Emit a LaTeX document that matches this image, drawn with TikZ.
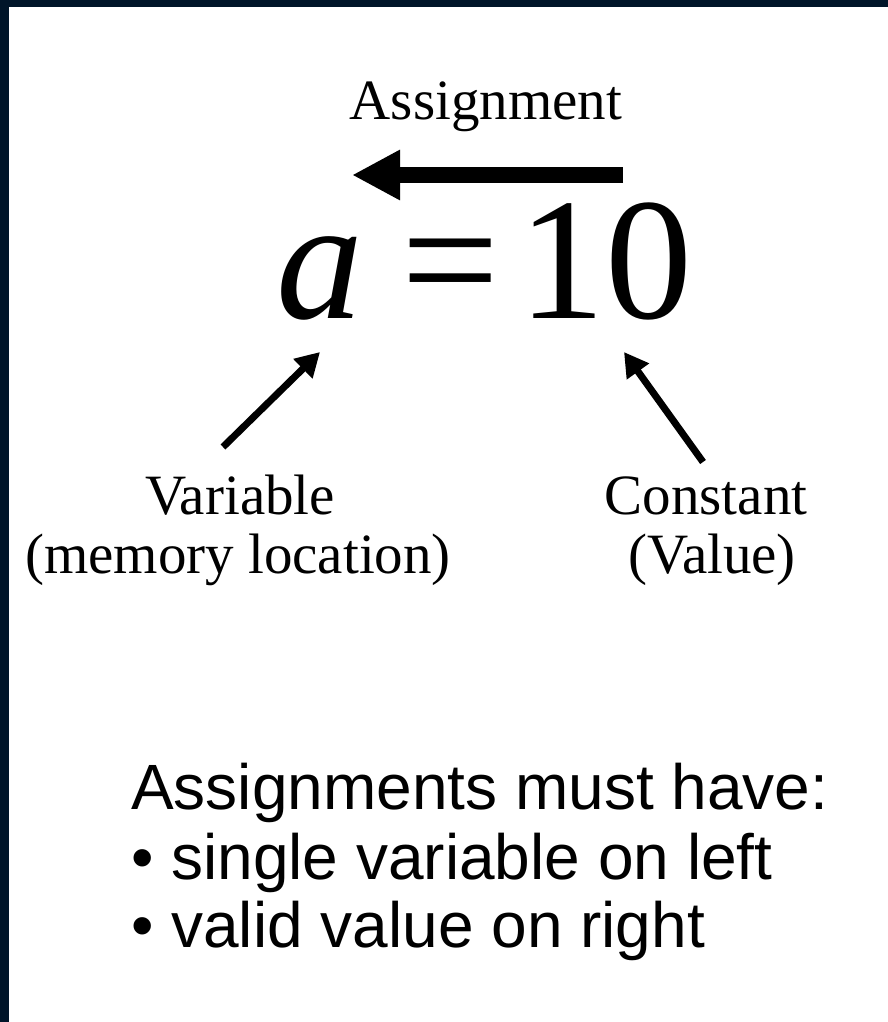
\documentclass[tikz,border=0pt]{standalone}
\usepackage{fontspec}
\setmainfont{Liberation Serif}
\setsansfont{Liberation Sans}
\usetikzlibrary{arrows.meta}
\definecolor{slideedge}{RGB}{0,21,41}

\begin{document}
\begin{tikzpicture}[x=1pt,y=-1pt,
  caption/.style={font=\fontsize{57}{62}\selectfont,anchor=base,inner sep=0pt},
  big/.style={font=\fontsize{174}{180}\selectfont,anchor=base,inner sep=0pt},
  rule/.style={font=\sffamily\fontsize{64}{68}\selectfont,anchor=base west,inner sep=0pt},
  pointer/.style={line width=7pt,-{Triangle[length=24pt,width=26pt]}}]
  % Frame
  \useasboundingbox (0,0) rectangle (888,1022);
  \fill[white] (0,0) rectangle (888,1022);
  \fill[slideedge] (0,0) rectangle (888,7);
  \fill[slideedge] (0,0) rectangle (9,1022);

  % Equation
  \node[big] (lhs) at (320,318) {\itshape a};
  \node[big] (eq) at (451,318) {=};
  \node[big] (rhs) at (605,318) {10};

  % Direction of assignment
  \node[caption] (assign) at (486,120) {Assignment};
  \coordinate (from) at (623,175);
  \coordinate (to) at (352,175);
  \draw[line width=16pt,-{Triangle[length=48pt,width=47pt]}] (from) -- (to);

  % Labels below
  \node[caption] (var) at (240,514) {Variable};
  \node[caption] (varnote) at (238,573) {(memory location)};
  \node[caption] (const) at (706,514) {Constant};
  \node[caption] (constnote) at (712,573) {(Value)};

  \coordinate (vtail) at (223,447);
  \coordinate (vtip) at (320,352);
  \coordinate (ctail) at (703,462);
  \coordinate (ctip) at (624,352);
  \draw[pointer] (vtail) -- (vtip);
  \draw[pointer] (ctail) -- (ctip);

  % Rules
  \node[rule] (rules) at (131,809) {Assignments must have:};
  \node[rule] (rule1) at (131,879) {\textbullet\ single variable on left};
  \node[rule] (rule2) at (131,947) {\textbullet\ valid value on right};
\end{tikzpicture}
\end{document}
